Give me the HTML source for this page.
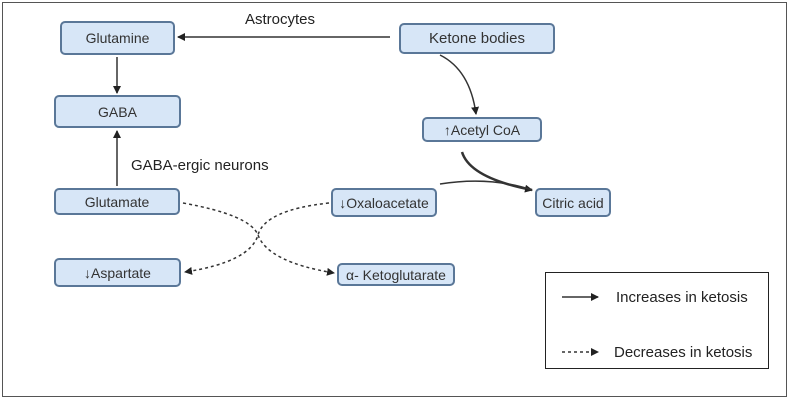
<!DOCTYPE html>
<html><head><style>
body{margin:0;background:#fff;}
.w{position:relative;width:790px;height:401px;overflow:hidden;font-family:"Liberation Sans",sans-serif;color:#333;}
.b{position:absolute;box-sizing:border-box;background:#d7e6f7;border:2px solid #5a7798;border-radius:5px;display:flex;align-items:center;justify-content:center;font-size:14px;}
.t{position:absolute;font-size:15px;color:#222;white-space:nowrap;}
svg{position:absolute;left:0;top:0;}
</style></head><body><div class="w">
<div style="position:absolute;left:2px;top:2px;width:783px;height:393px;border:1.5px solid #555;"></div>
<svg width="790" height="401">
<defs>
<marker id="a" markerWidth="8" markerHeight="8" refX="7" refY="4" orient="auto" markerUnits="userSpaceOnUse"><path d="M0,0L8,4L0,8z" fill="#222"/></marker>
</defs>
<g stroke="#333" fill="none" stroke-width="1.5">
<path d="M390,37 L178,37" marker-end="url(#a)"/>
<path d="M117,57 L117,93" marker-end="url(#a)"/>
<path d="M117,186 L117,131" marker-end="url(#a)"/>
<path d="M440,55 Q470,70 476,114" marker-end="url(#a)"/>
<path d="M462,152 Q470,178 532,190" stroke-width="2.5" marker-end="url(#a)"/>
<path d="M440,184 Q490,176 532,190" stroke-width="1.5"/>
<g stroke-dasharray="3,3">
<path d="M183,203 Q250,215 258,235 Q268,262 334,273" marker-end="url(#a)"/>
<path d="M329,203 Q265,210 258,235 Q250,262 185,272" marker-end="url(#a)"/>
</g>
<path d="M562,297 L598,297" marker-end="url(#a)"/>
<path d="M562,352 L598,352" stroke-dasharray="3,3" marker-end="url(#a)"/>
</g>
</svg>
<div class="b" style="left:60px;top:21px;width:115px;height:34px;">Glutamine</div>
<div class="b" style="left:54px;top:95px;width:127px;height:33px;">GABA</div>
<div class="b" style="left:54px;top:188px;width:126px;height:27px;">Glutamate</div>
<div class="b" style="left:54px;top:258px;width:127px;height:29px;">↓Aspartate</div>
<div class="b" style="left:399px;top:23px;width:156px;height:31px;font-size:15px;">Ketone bodies</div>
<div class="b" style="left:422px;top:117px;width:120px;height:25px;">↑Acetyl CoA</div>
<div class="b" style="left:331px;top:188px;width:106px;height:29px;">↓Oxaloacetate</div>
<div class="b" style="left:535px;top:188px;width:76px;height:29px;">Citric acid</div>
<div class="b" style="left:337px;top:263px;width:118px;height:23px;">α- Ketoglutarate</div>
<div class="t" style="left:245px;top:11px;">Astrocytes</div>
<div class="t" style="left:131px;top:157px;">GABA-ergic neurons</div>
<div style="position:absolute;left:545px;top:272px;width:224px;height:97px;border:1.5px solid #222;box-sizing:border-box;"></div>
<div class="t" style="left:616px;top:289px;">Increases in ketosis</div>
<div class="t" style="left:614px;top:344px;">Decreases in ketosis</div>
</div></body></html>
